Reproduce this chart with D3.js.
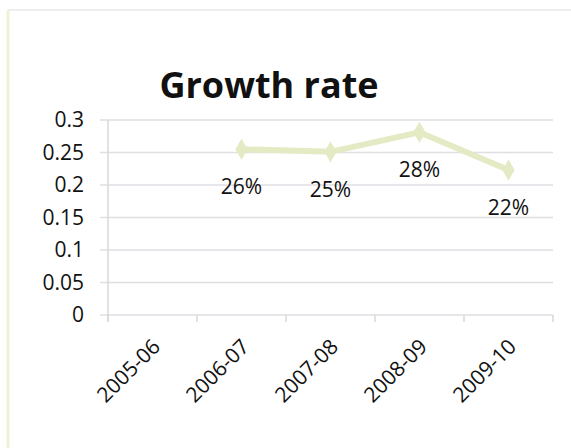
<!DOCTYPE html>
<html>
<head>
<meta charset="utf-8">
<script src="https://cdn.jsdelivr.net/npm/d3@7"></script>
<style>
  body { margin: 0; background: #fff; }
  svg { display: block; font-family: "Open Sans", "Noto Sans", sans-serif; }
</style>
</head>
<body>
<div id="chart"></div>
<script>
// chart data
const years = ["2005-06", "2006-07", "2007-08", "2008-09", "2009-10"];
const rates = [null, 0.255, 0.251, 0.281, 0.223];
const rateLabels = ["", "26%", "25%", "28%", "22%"];
const yTicks = [0, 0.05, 0.1, 0.15, 0.2, 0.25, 0.3];

let width = 571, height = 448;
let margin = {top: 120, left: 108, right: 18, bottom: 133};

let svg = d3.select('#chart').append('svg')
    .attr('width', width)
    .attr('height', height);

// frame
svg.append('line').attr('x1', 8).attr('x2', 571).attr('y1', 10).attr('y2', 10)
    .attr('stroke', '#eeeeee').attr('stroke-width', 2);
svg.append('line').attr('x1', 8).attr('x2', 8).attr('y1', 10).attr('y2', 448)
    .attr('stroke', '#eff2d6').attr('stroke-width', 3);

svg.append('text')
    .attr('x', 269).attr('y', 98)
    .attr('text-anchor', 'middle')
    .attr('font-size', 36)
    .attr('font-weight', 'bold')
    .attr('fill', '#111')
    .text('Growth rate');

let x = d3.scaleBand().domain(years)
    .range([margin.left, width - margin.right]);
let y = d3.scaleLinear().domain([0, 0.3])
    .range([height - margin.bottom, margin.top]);

// gridlines
svg.append('g')
    .selectAll('line')
    .data(yTicks)
    .join('line')
    .attr('x1', margin.left - 8)
    .attr('x2', width - margin.right)
    .attr('y1', d => y(d))
    .attr('y2', d => y(d))
    .attr('stroke', '#dfdfe4')
    .attr('stroke-width', 1.5);

// y axis line
svg.append('line')
    .attr('x1', margin.left).attr('x2', margin.left)
    .attr('y1', y(0.3)).attr('y2', y(0) + 6)
    .attr('stroke', '#d9d9d9').attr('stroke-width', 1.5);

// category tick marks
let bounds = years.map(d => x(d)).concat([x(years[years.length - 1]) + x.bandwidth()]);
svg.append('g')
    .selectAll('line')
    .data(bounds)
    .join('line')
    .attr('x1', d => d).attr('x2', d => d)
    .attr('y1', y(0)).attr('y2', y(0) + 7)
    .attr('stroke', '#d9d9d9').attr('stroke-width', 1.5);

// y labels
svg.append('g')
    .selectAll('text')
    .data(yTicks)
    .join('text')
    .attr('x', 84)
    .attr('y', d => y(d) + 7)
    .attr('text-anchor', 'end')
    .attr('font-size', 21)
    .attr('fill', '#111')
    .text(d => d);

// x labels
svg.append('g')
    .selectAll('text')
    .data(years)
    .join('text')
    .attr('text-anchor', 'end')
    .attr('font-size', 21)
    .attr('fill', '#111')
    .attr('transform', d => 'translate(' + (x(d) + x.bandwidth() / 2 + 9) + ',' + (y(0) + 33) + ') rotate(-45)')
    .text(d => d);

// series
let pts = years.map((d, i) => ({year: d, v: rates[i], label: rateLabels[i]})).filter(d => d.v !== null);
let cx = d => x(d.year) + x.bandwidth() / 2;

svg.append('path')
    .datum(pts)
    .attr('fill', 'none')
    .attr('stroke', '#e4eac4')
    .attr('stroke-width', 6)
    .attr('d', d3.line().x(cx).y(d => y(d.v)));

svg.append('g')
    .selectAll('path')
    .data(pts)
    .join('path')
    .attr('d', d3.symbol(d3.symbolDiamond, 130))
    .attr('transform', d => 'translate(' + cx(d) + ',' + y(d.v) + ')')
    .attr('fill', '#e4eac4');

svg.append('g')
    .selectAll('text')
    .data(pts)
    .join('text')
    .attr('x', cx)
    .attr('y', d => y(d.v) + 45)
    .attr('text-anchor', 'middle')
    .attr('font-size', 21)
    .attr('fill', '#111')
    .text(d => d.label);
</script>
</body>
</html>
